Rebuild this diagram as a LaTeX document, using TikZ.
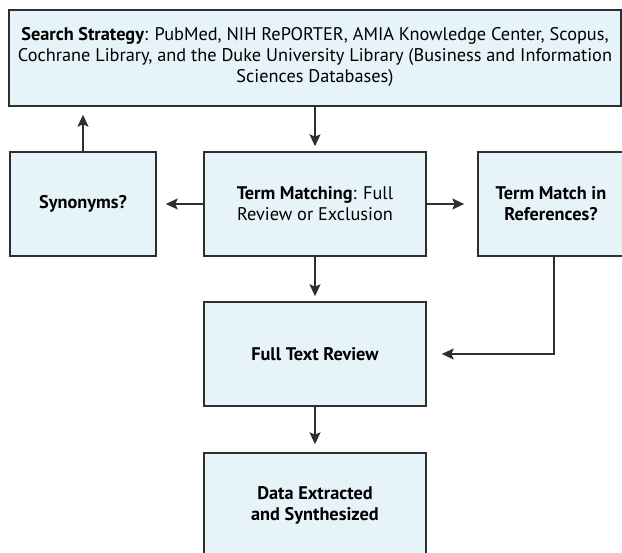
\documentclass[tikz,border=0pt]{standalone}
\usepackage{fontspec}
\setmainfont{PT Sans}
\usetikzlibrary{positioning,arrows.meta,calc}
\definecolor{figfill}{HTML}{E6F3F8}
\definecolor{figline}{HTML}{2E2E2E}
\tikzset{
  fig/.style={font=\fontsize{18.3}{21}\selectfont},
  box/.style={draw=figline,line width=1.5pt,fill=figfill,align=center,inner sep=2pt},
  ln/.style={-{Stealth[length=12pt,width=11pt,inset=2.5pt]},line width=1.5pt,figline},
}

\begin{document}
\begin{tikzpicture}[fig,x=1pt,y=-1pt,
  wide/.style={box,minimum width=612pt,minimum height=96pt,text depth=6pt},
  mid/.style={box,minimum width=222pt,minimum height=104pt},
  side/.style={box,minimum width=146pt,minimum height=104pt}]

\useasboundingbox (0,0) rectangle (622,553);

\node[wide] (strat) at (315,58) {\textbf{Search Strategy}: PubMed, NIH RePORTER, AMIA Knowledge Center, Scopus,\\
  Cochrane Library, and the Duke University Library (Business and Information\\
  Sciences Databases)};
\node[side] (syn)  at (83,204)    {\textbf{Synonyms?}};
\node[mid]  (term) at (315,204)   {\textbf{Term Matching}: Full\\Review or Exclusion};
\node[side] (refs) at (551,204)   {\textbf{Term Match in}\\\textbf{References?}};
\node[mid]  (full) at (315,354)   {\textbf{Full Text Review}};
\node[mid]  (data) at (315,505)   {\textbf{Data Extracted}\\\textbf{and Synthesized}};

\draw[ln,shorten >=5pt]  (strat.south) -- (term.north);
\draw[ln,shorten >=8pt]  (syn.north) -- (syn.north |- strat.south);
\draw[ln,shorten >=9pt]  (term.west) -- (syn.east);
\draw[ln,shorten >=13pt] (term.east) -- (refs.west);
\draw[ln,shorten >=5pt]  (term.south) -- (full.north);
\draw[ln,shorten >=15pt] ([xshift=3pt]refs.south) |- (full.east);
\draw[ln,shorten >=8pt]  (full.south) -- (data.north);

\end{tikzpicture}
\end{document}
